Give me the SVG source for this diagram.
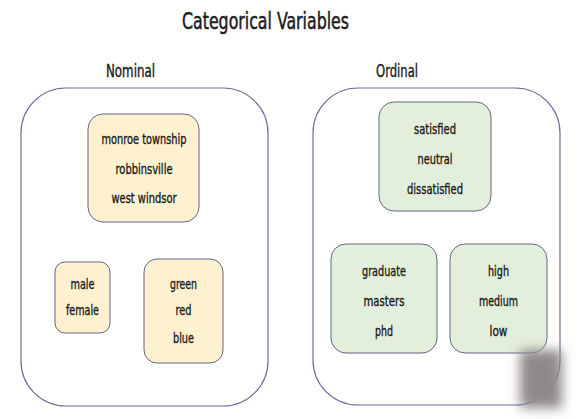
<svg xmlns="http://www.w3.org/2000/svg" width="578" height="419" viewBox="0 0 578 419">
<style>
text{font-family:"DejaVu Sans Condensed","DejaVu Sans","Liberation Sans",sans-serif;fill:#1c1c1c;stroke:#1c1c1c;stroke-width:0.35;text-anchor:middle}
.t{font-size:23px;stroke-width:0.5}
.h{font-size:17.5px;stroke-width:0.4}
.i{font-size:14.5px}
.outer{fill:#ffffff;stroke:#6e6e98;stroke-width:1.2}
.y{fill:#fdf1cf;stroke:#63668a;stroke-width:1}
.g{fill:#e3efda;stroke:#63668a;stroke-width:1}
</style>
<defs>
<filter id="blur" x="-50%" y="-50%" width="200%" height="200%"><feGaussianBlur stdDeviation="6"/></filter>
</defs>
<rect width="578" height="419" fill="#ffffff"/>
<text class="t" x="265.5" y="29" textLength="167" lengthAdjust="spacingAndGlyphs">Categorical Variables</text>
<g id="nominal">
<text class="h" x="130.5" y="77" textLength="49" lengthAdjust="spacingAndGlyphs">Nominal</text>
<rect class="outer" x="21" y="88" width="247" height="318" rx="45"/>
</g>
<g id="ordinal">
<text class="h" x="397" y="77" textLength="42" lengthAdjust="spacingAndGlyphs">Ordinal</text>
<rect class="outer" x="313" y="88" width="247" height="317" rx="45"/>
</g>
<g id="towns">
<rect class="y" x="88" y="114" width="111" height="108" rx="15"/>
<text class="i" x="144" y="144" textLength="85" lengthAdjust="spacingAndGlyphs">monroe township</text>
<text class="i" x="144" y="174" textLength="57" lengthAdjust="spacingAndGlyphs">robbinsville</text>
<text class="i" x="144" y="203" textLength="65" lengthAdjust="spacingAndGlyphs">west windsor</text>
</g>
<g id="gender">
<rect class="y" x="55" y="262" width="55" height="71" rx="10"/>
<text class="i" x="82.5" y="289" textLength="24" lengthAdjust="spacingAndGlyphs">male</text>
<text class="i" x="82.5" y="315" textLength="33" lengthAdjust="spacingAndGlyphs">female</text>
</g>
<g id="colours">
<rect class="y" x="144" y="259" width="79" height="104" rx="13"/>
<text class="i" x="183.5" y="289" textLength="27" lengthAdjust="spacingAndGlyphs">green</text>
<text class="i" x="183.5" y="315" textLength="16" lengthAdjust="spacingAndGlyphs">red</text>
<text class="i" x="183.5" y="343" textLength="21" lengthAdjust="spacingAndGlyphs">blue</text>
</g>
<g id="satisfaction">
<rect class="g" x="379" y="102" width="112" height="109" rx="15"/>
<text class="i" x="435" y="134" textLength="42" lengthAdjust="spacingAndGlyphs">satisfied</text>
<text class="i" x="435" y="164" textLength="35" lengthAdjust="spacingAndGlyphs">neutral</text>
<text class="i" x="435" y="194" textLength="56" lengthAdjust="spacingAndGlyphs">dissatisfied</text>
</g>
<g id="education">
<rect class="g" x="331" y="244" width="106" height="109" rx="15"/>
<text class="i" x="384" y="276" textLength="44" lengthAdjust="spacingAndGlyphs">graduate</text>
<text class="i" x="384" y="306" textLength="41" lengthAdjust="spacingAndGlyphs">masters</text>
<text class="i" x="384" y="336" textLength="18" lengthAdjust="spacingAndGlyphs">phd</text>
</g>
<g id="level">
<rect class="g" x="450" y="244" width="97" height="109" rx="15"/>
<text class="i" x="498.5" y="276" textLength="21" lengthAdjust="spacingAndGlyphs">high</text>
<text class="i" x="498.5" y="306" textLength="39" lengthAdjust="spacingAndGlyphs">medium</text>
<text class="i" x="498.5" y="336" textLength="18" lengthAdjust="spacingAndGlyphs">low</text>
</g>
<g id="connectors"></g>
<rect x="520" y="350" width="42" height="58" fill="#8f8989" filter="url(#blur)"/>
</svg>
